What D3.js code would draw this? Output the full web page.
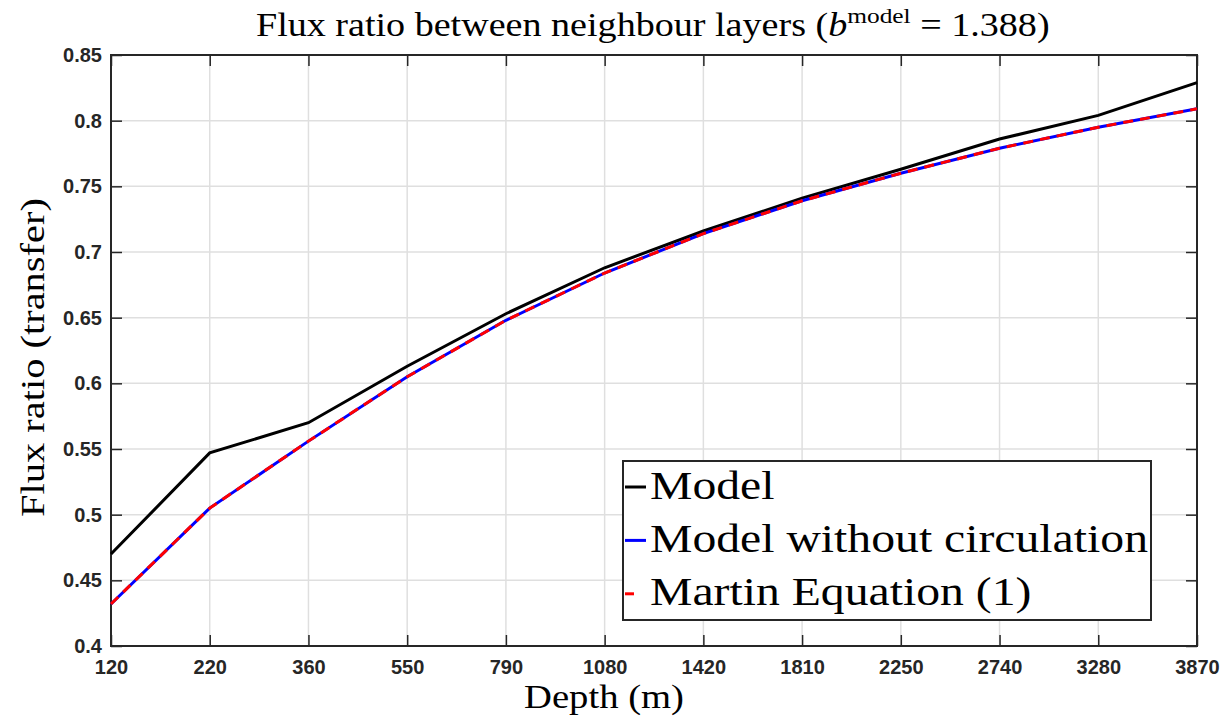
<!DOCTYPE html>
<html><head><meta charset="utf-8">
<script src="https://cdn.jsdelivr.net/npm/d3@7/dist/d3.min.js"></script>
<style>body{margin:0;background:#fff}</style>
</head><body><svg id="c" width="1230" height="719"></svg>
<script>
const depths = ["120","220","360","550","790","1080","1420","1810","2250","2740","3280","3870"];
const model = [0.470,0.547,0.570,0.613,0.653,0.688,0.716,0.741,0.763,0.786,0.804,0.829];
const modelNoCirc = [0.432,0.505,0.556,0.605,0.648,0.684,0.714,0.739,0.760,0.779,0.795,0.809];
const martin = [0.432,0.505,0.556,0.605,0.648,0.684,0.714,0.739,0.760,0.779,0.795,0.809];
const yTicks = [0.4,0.45,0.5,0.55,0.6,0.65,0.7,0.75,0.8,0.85];
const yTickLabels = ["0.4","0.45","0.5","0.55","0.6","0.65","0.7","0.75","0.8","0.85"];

const svg = d3.select("#c");
const L=111, R=1197, T=55, B=646;
const x = d3.scalePoint().domain(depths).range([L,R]);
const y = d3.scaleLinear().domain([0.4,0.85]).range([B,T]);
const axisCol="#262626", gridCol="#dfdfdf";
const sans = "Liberation Sans, Arial, sans-serif";
const serif = "Liberation Serif, Times New Roman, serif";

// grid
svg.append("g").selectAll("line").data(depths).join("line")
  .attr("x1",d=>x(d)).attr("x2",d=>x(d)).attr("y1",T).attr("y2",B)
  .attr("stroke",gridCol).attr("stroke-width",1.5);
svg.append("g").selectAll("line").data(yTicks).join("line")
  .attr("x1",L).attr("x2",R).attr("y1",d=>y(d)).attr("y2",d=>y(d))
  .attr("stroke",gridCol).attr("stroke-width",1.5);

// axes
const tickFmt = d => yTickLabels[yTicks.indexOf(d)];
const ax = (g)=>{g.selectAll(".domain").remove(); g.selectAll("line").attr("stroke",axisCol).attr("stroke-width",1.5);};
svg.append("g").attr("transform",`translate(0,${B})`)
  .call(d3.axisBottom(x).tickSizeInner(-11).tickSizeOuter(0).tickPadding(14)).call(ax)
  .selectAll("text").attr("font-family",sans).attr("font-weight","bold").attr("font-size",20).attr("fill",axisCol);
svg.append("g").attr("transform",`translate(0,${T})`)
  .call(d3.axisTop(x).tickSizeInner(-11).tickSizeOuter(0).tickFormat("")).call(ax);
svg.append("g").attr("transform",`translate(${L},0)`)
  .call(d3.axisLeft(y).tickValues(yTicks).tickFormat(tickFmt).tickSizeInner(-11).tickSizeOuter(0).tickPadding(9)).call(ax)
  .selectAll("text").attr("font-family",sans).attr("font-weight","bold").attr("font-size",20).attr("fill",axisCol);
svg.append("g").attr("transform",`translate(${R},0)`)
  .call(d3.axisRight(y).tickValues(yTicks).tickFormat("").tickSizeInner(-11).tickSizeOuter(0)).call(ax);
svg.append("rect").attr("x",L).attr("y",T).attr("width",R-L).attr("height",B-T)
  .attr("fill","none").attr("stroke",axisCol).attr("stroke-width",2);

// lines
const line = d3.line().x((d,i)=>x(depths[i])).y(d=>y(d));
svg.append("path").datum(model).attr("d",line).attr("fill","none").attr("stroke","#000").attr("stroke-width",3);
svg.append("path").datum(modelNoCirc).attr("d",line).attr("fill","none").attr("stroke","#0000ff").attr("stroke-width",3);
svg.append("path").datum(martin).attr("d",line).attr("fill","none").attr("stroke","#ff0000").attr("stroke-width",3).attr("stroke-dasharray","10,7");

// helper: stretch text horizontally to span a target width
function fit(g, textSel, width){
  const w = textSel.node().getBBox().width;
  return width / w;
}

// title
const tg = svg.append("g");
const title = tg.append("text").attr("x",0).attr("y",0)
  .attr("font-family",serif).attr("font-size",33).attr("fill","#000");
title.append("tspan").text("Flux ratio between neighbour layers (");
title.append("tspan").attr("font-style","italic").text("b");
title.append("tspan").attr("font-size",22).attr("dy",-13).text("model");
title.append("tspan").attr("dy",13).text(" = 1.388)");
{ const bb = title.node().getBBox(); const s = 794/bb.width;
  tg.attr("transform",`translate(${256 - bb.x*s},36) scale(${s},1)`); }

// x label
const xg = svg.append("g");
const xl = xg.append("text").attr("font-family",serif).attr("font-size",33).text("Depth (m)");
{ const bb = xl.node().getBBox(); const s = 160/bb.width;
  xg.attr("transform",`translate(${524 - bb.x*s},708) scale(${s},1)`); }

// y label
const yg = svg.append("g");
const yl = yg.append("text").attr("font-family",serif).attr("font-size",33).text("Flux ratio (transfer)");
{ const bb = yl.node().getBBox(); const s = 319/bb.width;
  yg.attr("transform",`translate(44,${517 + bb.x*s}) rotate(-90) scale(${s},1)`); }

// legend
const legNames = ["Model","Model without circulation","Martin Equation (1)"];
const legCols = ["#000","#0000ff","#ff0000"];
const lg = svg.append("g");
lg.append("rect").attr("x",623).attr("y",461).attr("width",528).attr("height",159)
  .attr("fill","#fff").attr("stroke",axisCol).attr("stroke-width",2);
const texts = [];
legNames.forEach((n,i)=>{
  const yy = 487 + i*53.4;
  lg.append("line").attr("x1",625).attr("x2",i==2?634:646).attr("y1",yy).attr("y2",yy)
    .attr("stroke",legCols[i]).attr("stroke-width",3);
  const g = lg.append("g");
  const t = g.append("text").attr("font-family",serif).attr("font-size",41).text(n);
  texts.push({g,t,yy});
});
{ const bb = texts[1].t.node().getBBox(); const s = 498/bb.width;
  texts.forEach(o=>{ const b = o.t.node().getBBox();
    o.g.attr("transform",`translate(${650 - b.x*s},${o.yy+11.5}) scale(${s},1)`); }); }
</script></body></html>
